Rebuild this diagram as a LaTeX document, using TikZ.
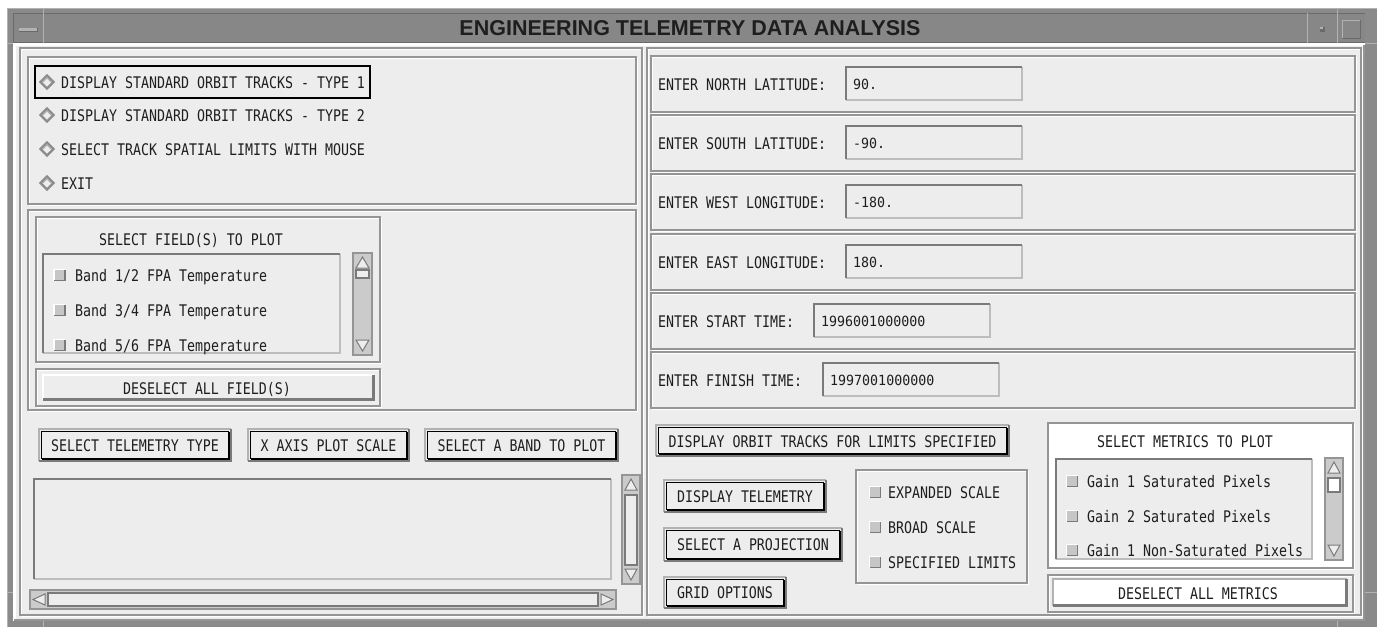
\documentclass[tikz,border=0pt]{standalone}
\usepackage{fontspec}
\usetikzlibrary{calc}
\newfontfamily\uifont[FakeStretch=0.83]{DejaVu Sans Mono}
\newfontfamily\numfont[FakeStretch=0.95]{DejaVu Sans Mono}
\newfontfamily\titlefont{Liberation Sans}

\definecolor{winframe}{HTML}{8A8A8A}
\definecolor{titlebar}{HTML}{878787}
\definecolor{frameedge}{HTML}{6A6A6A}
\definecolor{framelite}{HTML}{B2B2B2}
\definecolor{panel}{HTML}{EDEDED}
\definecolor{etch}{HTML}{959595}
\definecolor{etchdark}{HTML}{7A7A7A}
\definecolor{trough}{HTML}{CBCBCB}
\definecolor{ink}{HTML}{1E1E1E}
\definecolor{boxgray}{HTML}{C6C6C6}
\definecolor{fieldlite}{HTML}{BDBDBD}
\definecolor{diagray}{HTML}{8C8C8C}

\tikzset{
  ui/.style={font={\uifont\fontsize{16}{19}\selectfont}, text=ink, inner sep=0pt},
  num/.style={font={\numfont\fontsize{14}{17}\selectfont}, text=ink, inner sep=0pt},
  wintitle/.style={font={\titlefont\bfseries\fontsize{21.5}{24}\selectfont}, text=ink, inner sep=0pt},
}

% etched frame: dark outline with a white echo one pixel inside
\newcommand\etchedbox[4]{%
  \draw[white,line width=1.2pt] (#1+1.2,#2+1.2) rectangle (#3+1.2,#4+1.2);
  \draw[etch,line width=1.2pt] (#1,#2) rectangle (#3,#4);}
% sunken field: dark top/left, light bottom/right
\newcommand\sunkenbox[4]{%
  \draw[fieldlite,line width=2pt] (#1+1,#4-1)--(#3-1,#4-1)--(#3-1,#2+1);
  \draw[etchdark,line width=2pt] (#1+1,#4-1)--(#1+1,#2+1)--(#3-1,#2+1);}
% raised push button: args x1 y1 x2 y2 fill highlight
\newcommand\raisedbtn[6]{%
  \fill[#5] (#1,#2) rectangle (#3,#4);
  \draw[#6,line width=2pt] (#1+1,#4-1)--(#1+1,#2+1)--(#3-1,#2+1);
  \draw[etchdark,line width=3pt] (#3-1.5,#2+1)--(#3-1.5,#4-1.5)--(#1+1,#4-1.5);}
% default push button with black ring
\newcommand\ringbtn[4]{%
  \fill[panel] (#1,#2) rectangle (#3,#4);
  \draw[framelite,line width=2pt] (#1+1,#4-1)--(#1+1,#2+1)--(#3-1,#2+1);
  \draw[etchdark,line width=2pt] (#3-1,#2+1)--(#3-1,#4-1)--(#1+1,#4-1);
  \draw[black,line width=1.8pt] (#1+3.5,#2+3.5) rectangle (#3-3.5,#4-3.5);
  \draw[black,line width=1pt] (#3-2.5,#2+4)--(#3-2.5,#4-2.5)--(#1+4,#4-2.5);}
% radio diamond at centre x y
\newcommand\radiodia[2]{%
  \fill[panel] (#1-6.5,#2)--(#1,#2-6.5)--(#1+6.5,#2)--(#1,#2+6.5)--cycle;
  \draw[diagray,line width=2.2pt,line join=miter] (#1-6.5,#2)--(#1,#2-6.5)--(#1+6.5,#2)--(#1,#2+6.5)--cycle;
  \draw[framelite,line width=0.8pt] (#1-4,#2)--(#1,#2-4)--(#1+4,#2);}
% check box at centre x y
\newcommand\chkbox[2]{%
  \fill[boxgray] (#1-5.5,#2-5.5) rectangle (#1+5.5,#2+5.5);
  \draw[white,line width=1.2pt] (#1-5.5,#2+5.5)--(#1-5.5,#2-5.5)--(#1+5.5,#2-5.5);
  \draw[etchdark,line width=1.6pt] (#1+5.5,#2-5.5)--(#1+5.5,#2+5.5)--(#1-5.5,#2+5.5);}
% vertical scroll bar: x1 y1 x2 y2 thumb-top thumb-bottom thumb-fill
\newcommand\vscrollbar[7]{%
  \fill[trough] (#1,#2) rectangle (#3,#4);
  \draw[etch,line width=1.4pt] (#1,#2) rectangle (#3,#4);
  \draw[etchdark,fill=panel,line width=1pt] ({(#1+#3)/2},#2+4)--(#3-3,#2+15)--(#1+3,#2+15)--cycle;
  \draw[etchdark,fill=panel,line width=1pt] ({(#1+#3)/2},#4-4)--(#3-3,#4-15)--(#1+3,#4-15)--cycle;
  \draw[etchdark,fill=#7,line width=1.2pt] (#1+3,#5) rectangle (#3-3,#6);}
% horizontal scroll bar: x1 y1 x2 y2 thumb-left thumb-right
\newcommand\hscrollbar[6]{%
  \fill[trough] (#1,#2) rectangle (#3,#4);
  \draw[etch,line width=1.4pt] (#1,#2) rectangle (#3,#4);
  \draw[etchdark,fill=panel,line width=1pt] (#1+3,{(#2+#4)/2})--(#1+15,#2+4)--(#1+15,#4-4)--cycle;
  \draw[etchdark,fill=panel,line width=1pt] (#3-3,{(#2+#4)/2})--(#3-15,#2+4)--(#3-15,#4-4)--cycle;
  \draw[etchdark,fill=panel,line width=1.2pt] (#5,#2+3) rectangle (#6,#4-3);}

\begin{document}
\begin{tikzpicture}[x=1pt,y=-1pt]
\useasboundingbox (0,0) rectangle (1377,627);
\fill[white] (0,0) rectangle (1377,627);

% ---- window manager frame ----
\fill[winframe] (7,8) rectangle (1377,627);
\draw[framelite,line width=1pt] (7.5,627)--(7.5,8.5)--(1377,8.5);
\fill[titlebar] (13,13) rectangle (1365,43);
\draw[frameedge,line width=1pt] (13,13.5)--(1365,13.5);
\draw[frameedge,line width=1pt] (13.5,13)--(13.5,43);
\draw[frameedge,line width=1.2pt] (13,42.5)--(1365,42.5);
\draw[framelite,line width=1pt] (43.5,8)--(43.5,43);
\draw[framelite,line width=1pt] (1307.5,13)--(1307.5,43);
\draw[framelite,line width=1pt] (1337.5,8)--(1337.5,43);
\draw[framelite,line width=1pt] (7,43.5)--(13,43.5);
\draw[framelite,line width=1pt] (1365,43.5)--(1377,43.5);
\draw[framelite,line width=1pt] (43.5,621)--(43.5,627);
\draw[framelite,line width=1pt] (1337.5,621)--(1337.5,627);
\draw[framelite,line width=1pt] (7,592.5)--(13,592.5);
\draw[framelite,line width=1pt] (1365,592.5)--(1377,592.5);
% minimise bar, iconify dot, maximise box
\fill[framelite] (19,28) rectangle (37,31);
\draw[frameedge,line width=1pt] (19,31.5)--(37,31.5)--(37,28);
\fill[frameedge] (1320,27) rectangle (1325,32);
\fill[framelite] (1320,27) rectangle (1323,29);
\draw[framelite,line width=1pt] (1342.5,38)--(1342.5,20.5)--(1360,20.5);
\draw[frameedge,line width=1pt] (1360.5,20)--(1360.5,38.5)--(1342,38.5);
\node[wintitle, anchor=base] (title) at (690,35) {ENGINEERING TELEMETRY DATA ANALYSIS};

% ---- client area ----
\fill[panel] (13,43) rectangle (1365,621);
\draw[white,line width=3pt] (14.5,621)--(14.5,44.5)--(1365,44.5);
\draw[etch,line width=2pt] (1364,45)--(1364,620)--(14,620);

% ---- left column ----
\etchedbox{20}{48}{642}{615}
\etchedbox{28}{57}{636}{204}
\draw[black,line width=1.2pt] (35,66) rectangle (370,98);
\radiodia{47}{82}
\radiodia{47}{115}
\radiodia{47}{149}
\radiodia{47}{183}
\node[ui, anchor=base west] (opt1) at (61,88) {DISPLAY STANDARD ORBIT TRACKS - TYPE 1};
\node[ui, anchor=base west] (opt2) at (61,121) {DISPLAY STANDARD ORBIT TRACKS - TYPE 2};
\node[ui, anchor=base west] (opt3) at (61,155) {SELECT TRACK SPATIAL LIMITS WITH MOUSE};
\node[ui, anchor=base west] (opt4) at (61,189) {EXIT};

\etchedbox{28}{210}{636}{410}
\etchedbox{36}{217}{380}{362}
\node[ui, anchor=base] (fldhead) at (191,245) {SELECT FIELD(S) TO PLOT};
\sunkenbox{42}{253}{341}{354}
\chkbox{59.5}{275}
\chkbox{59.5}{310}
\chkbox{59.5}{345}
\node[ui, anchor=base west] (fld1) at (75,281) {Band 1/2 FPA Temperature};
\node[ui, anchor=base west] (fld2) at (75,316) {Band 3/4 FPA Temperature};
\node[ui, anchor=base west] (fld3) at (75,351) {Band 5/6 FPA Temperature};
\vscrollbar{353}{253}{372}{355}{270}{278}{panel}
\etchedbox{36}{369}{380}{406}
\raisedbtn{42}{374}{375}{401}{panel}{white}
\node[ui, anchor=base] (desfld) at (207,394) {DESELECT ALL FIELD(S)};

\ringbtn{38}{428}{232}{462}
\ringbtn{247}{428}{410}{462}
\ringbtn{424}{428}{619}{462}
\node[ui, anchor=base] (teltype) at (135,451) {SELECT TELEMETRY TYPE};
\node[ui, anchor=base] (xscale) at (328.5,451) {X AXIS PLOT SCALE};
\node[ui, anchor=base] (band) at (521.5,451) {SELECT A BAND TO PLOT};

\sunkenbox{33}{478}{612}{580}
\vscrollbar{622}{475}{640}{584}{495}{565}{panel}
\hscrollbar{30}{590}{616}{609}{48}{598}

% ---- right column ----
\etchedbox{647}{48}{1361}{615}
\foreach \t in {56,115,174,234,293,352}{
  \etchedbox{651}{\t}{1355}{\t+56}
}
\sunkenbox{845}{66}{1023}{101}
\sunkenbox{845}{125}{1023}{160}
\sunkenbox{845}{184}{1023}{219}
\sunkenbox{845}{244}{1023}{279}
\sunkenbox{813}{303}{991}{338}
\sunkenbox{822}{362}{1000}{397}
\node[ui, anchor=base west] (northlab) at (658,90) {ENTER NORTH LATITUDE:};
\node[ui, anchor=base west] (southlab) at (658,149) {ENTER SOUTH LATITUDE:};
\node[ui, anchor=base west] (westlab)  at (658,208) {ENTER WEST LONGITUDE:};
\node[ui, anchor=base west] (eastlab)  at (658,268) {ENTER EAST LONGITUDE:};
\node[ui, anchor=base west] (startlab) at (658,327) {ENTER START TIME:};
\node[ui, anchor=base west] (finlab)   at (658,386) {ENTER FINISH TIME:};
\node[num, anchor=base west] (northval) at (853,89) {90.};
\node[num, anchor=base west] (southval) at (853,148) {-90.};
\node[num, anchor=base west] (westval)  at (853,207) {-180.};
\node[num, anchor=base west] (eastval)  at (853,267) {180.};
\node[num, anchor=base west] (startval) at (821,326) {1996001000000};
\node[num, anchor=base west] (finval)   at (830,385) {1997001000000};

\ringbtn{655}{424}{1010}{457}
\node[ui, anchor=base] (orbit) at (832.5,447) {DISPLAY ORBIT TRACKS FOR LIMITS SPECIFIED};
\ringbtn{663}{479}{827}{513}
\node[ui, anchor=base] (disptel) at (745,502) {DISPLAY TELEMETRY};
\ringbtn{663}{527}{843}{562}
\node[ui, anchor=base] (proj) at (753,550.5) {SELECT A PROJECTION};
\ringbtn{663}{576}{787}{609}
\node[ui, anchor=base] (grid) at (725,598.5) {GRID OPTIONS};

\etchedbox{856}{470}{1027}{583}
\chkbox{875}{492}
\chkbox{875}{527}
\chkbox{875}{562}
\node[ui, anchor=base west] (expand) at (888,498) {EXPANDED SCALE};
\node[ui, anchor=base west] (broad)  at (888,533) {BROAD SCALE};
\node[ui, anchor=base west] (speclim) at (888,568) {SPECIFIED LIMITS};

\fill[white] (1048,423) rectangle (1353,568);
\etchedbox{1048}{423}{1353}{568}
\node[ui, anchor=base] (methead) at (1185,447) {SELECT METRICS TO PLOT};
\fill[panel] (1055,458) rectangle (1313,560);
\sunkenbox{1055}{458}{1313}{560}
\chkbox{1072}{481}
\chkbox{1072}{516}
\chkbox{1072}{550}
\node[ui, anchor=base west] (met1) at (1087,487) {Gain 1 Saturated Pixels};
\node[ui, anchor=base west] (met2) at (1087,522) {Gain 2 Saturated Pixels};
\node[ui, anchor=base west] (met3) at (1087,556) {Gain 1 Non-Saturated Pixels};
\vscrollbar{1325}{458}{1343}{560}{478}{492}{white}
\etchedbox{1048}{575}{1353}{612}
\raisedbtn{1052}{578}{1348}{607}{white}{framelite}
\node[ui, anchor=base] (desmet) at (1198,599) {DESELECT ALL METRICS};
\end{tikzpicture}
\end{document}
